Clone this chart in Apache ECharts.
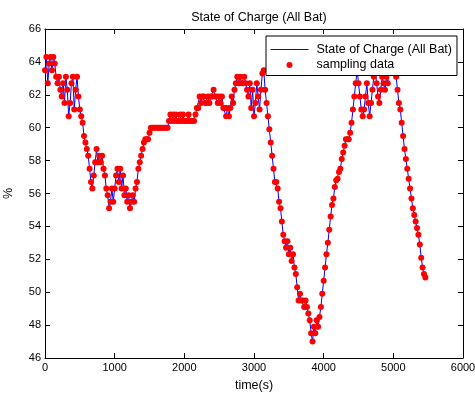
<!DOCTYPE html>
<html>
<head>
<meta charset="utf-8">
<script src="https://cdn.jsdelivr.net/npm/echarts@6/dist/echarts.min.js"></script>
<style>
  html, body { margin: 0; padding: 0; background: #fff; }
  #chart { width: 475px; height: 394px; }
</style>
</head>
<body>
<div id="chart"></div>
<script>
// sampling period of the logged SoC (s)
const sampleStep = 20;

// SoC readings (%), one every sampleStep seconds, starting at t = 0
const socValues = [
  // 0 - 480 s
  63.5, 64.3, 62.7, 63.9, 64.3, 63.5, 64.3, 63.9, 63.1, 62.7, 63.1, 62.3, 61.9,
  62.7, 61.5, 63.1, 62.3, 60.7, 61.5, 62.7, 63.1, 61.1, 62.3, 63.1, 61.9,
  // 500 - 980 s
  61.1, 60.7, 60.3, 59.5, 59.1, 58.7, 58.3, 57.5, 56.7, 56.3, 57.1, 57.9, 58.7,
  57.9, 58.3, 57.9, 58.3, 57.5, 57.1, 56.3, 55.9, 55.1, 55.5, 56.3, 55.5,
  // 1000 - 1520 s
  56.3, 57.1, 57.5, 56.7, 57.5, 56.3, 57.1, 55.9, 56.3, 55.5, 55.9, 55.1, 55.5,
  55.9, 55.5, 56.3, 56.7, 57.5, 57.9, 58.3, 58.7, 59.1, 59.3, 59.3, 59.3, 59.7, 60.0,
  // 1540 - 2180 s
  60.0, 60.0, 60.0, 60.0, 60.0, 60.0, 60.0, 60.0, 60.0, 60.0, 60.0, 60.0,
  60.4, 60.8, 60.4, 60.8, 60.4, 60.8, 60.4, 60.4, 60.8, 60.4, 60.8, 60.4,
  60.4, 60.4, 60.8, 60.4, 60.4, 60.4, 60.4, 60.8,
  // 2200 - 2740 s
  61.2, 61.2, 61.9, 61.5, 61.9, 61.9, 61.5, 61.5, 61.9, 61.5, 61.9, 61.9, 62.3,
  61.9, 61.9, 61.5, 61.9, 61.5, 61.9, 61.2, 61.2, 60.7, 61.2, 60.7, 61.2, 61.9,
  61.5, 62.3,
  // 2760 - 3140 s
  62.7, 63.1, 62.7, 63.1, 62.7, 62.7, 63.1, 62.7, 62.3, 61.9, 62.7, 61.2, 62.3,
  60.7, 61.5, 62.7, 61.9, 61.1, 62.3, 63.3,
  // 3160 - 3760 s
  63.5, 62.3, 61.5, 60.7, 59.9, 59.1, 58.3, 57.5, 56.7, 56.7, 56.3, 55.5, 55.1,
  54.3, 53.5, 53.1, 52.7, 53.1, 52.3, 52.7, 51.9, 52.3, 51.5, 51.1, 50.3, 49.5,
  49.9, 49.5, 49.5, 49.1, 49.5,
  // 3780 - 4200 s
  49.1, 48.7, 48.3, 47.5, 47.0, 47.9, 47.5, 48.3, 47.9, 48.5, 49.1, 49.9, 50.7,
  51.5, 52.3, 53.0, 53.8, 54.6, 55.3, 55.7, 56.4, 56.8,
  // 4220 - 4500 s
  56.9, 57.3, 57.5, 58.1, 58.5, 58.9, 59.3, 59.3, 59.3, 59.7, 60.3, 61.1, 61.9,
  62.7, 63.5,
  // 4520 - 5040 s
  62.7, 61.9, 61.1, 60.7, 61.1, 61.9, 62.7, 61.5, 60.7, 61.5, 62.3, 63.1, 63.5,
  62.7, 61.9, 61.5, 62.3, 63.1, 62.7, 62.3, 63.1, 62.7, 63.5, 63.9, 63.5, 63.9, 63.5,
  // 5060 - 5480 s
  63.1, 62.3, 61.5, 61.1, 60.3, 59.5, 58.7, 58.1, 57.5, 56.9, 56.3, 55.7, 55.1,
  54.7, 54.3, 53.9, 53.5, 52.9, 52.1, 51.5, 51.1, 50.9
];

const timeTicks = [0, 1000, 2000, 3000, 4000, 5000, 6000];
const socTicks = [46, 48, 50, 52, 54, 56, 58, 60, 62, 64, 66];

const socData = socValues.map((v, i) => [i * sampleStep, v]);

const chart = echarts.init(document.getElementById('chart'));

const font = 'Liberation Sans, Arial, Helvetica, sans-serif';
const axisBase = {
  axisLine: { show: true, onZero: false, lineStyle: { color: '#000', width: 1 } },
  axisTick: { show: true, inside: true, length: 5, lineStyle: { color: '#000' } },
  splitLine: { show: false }
};
// plain tick numbers, no thousands separator
const plain = (v) => String(v);

chart.setOption({
  animation: false,
  backgroundColor: '#fff',
  textStyle: { fontFamily: font },
  title: {
    text: 'State of Charge (All Bat)',
    left: 254,
    top: 6,
    textAlign: 'center',
    textStyle: { fontSize: 12.5, fontWeight: 'normal', color: '#000', fontFamily: font }
  },
  grid: { left: 45, right: 12, top: 29, bottom: 36, outerBoundsMode: 'none' },
  legend: {
    left: 266,
    top: 36,
    orient: 'vertical',
    itemWidth: 38,
    itemHeight: 6,
    itemGap: 2.5,
    padding: [7, 5, 4, 4],
    borderColor: '#000',
    borderWidth: 1,
    borderRadius: 0,
    backgroundColor: '#fff',
    lineStyle: { color: '#0000ff', width: 1 },
    textStyle: { fontSize: 12.5, color: '#000', fontFamily: font, padding: [0, 0, 0, 3] },
    data: [
      // line only: hide the marker the line icon draws by default
      { name: 'State of Charge (All Bat)', itemStyle: { opacity: 0 } },
      { name: 'sampling data', icon: 'circle' }
    ]
  },
  xAxis: [
    Object.assign({}, axisBase, {
      type: 'value',
      min: timeTicks[0],
      max: timeTicks[timeTicks.length - 1],
      interval: 1000,
      position: 'bottom',
      name: 'time(s)',
      nameLocation: 'middle',
      nameGap: 21,
      nameTextStyle: { fontSize: 12.5, color: '#000', fontFamily: font },
      axisLabel: { fontSize: 11, color: '#000', margin: 4, fontFamily: font, formatter: plain }
    }),
    Object.assign({}, axisBase, {
      type: 'value',
      min: timeTicks[0],
      max: timeTicks[timeTicks.length - 1],
      interval: 1000,
      position: 'top',
      axisLabel: { show: false }
    })
  ],
  yAxis: [
    Object.assign({}, axisBase, {
      type: 'value',
      min: socTicks[0],
      max: socTicks[socTicks.length - 1],
      interval: 2,
      position: 'left',
      name: '%',
      nameLocation: 'middle',
      nameGap: 30,
      nameTextStyle: { fontSize: 12.5, color: '#000', fontFamily: font },
      axisLabel: { fontSize: 11, color: '#000', margin: 4, fontFamily: font, formatter: plain }
    }),
    Object.assign({}, axisBase, {
      type: 'value',
      min: socTicks[0],
      max: socTicks[socTicks.length - 1],
      interval: 2,
      position: 'right',
      axisLabel: { show: false }
    })
  ],
  series: [
    {
      name: 'State of Charge (All Bat)',
      type: 'line',
      data: socData,
      symbol: 'none',
      showSymbol: false,
      lineStyle: { color: '#0000ff', width: 1 },
      itemStyle: { color: '#0000ff' },
      z: 2
    },
    {
      name: 'sampling data',
      type: 'scatter',
      data: socData,
      symbol: 'circle',
      symbolSize: 6,
      itemStyle: { color: '#ff0000', opacity: 1 },
      z: 3
    }
  ]
});
</script>
</body>
</html>
